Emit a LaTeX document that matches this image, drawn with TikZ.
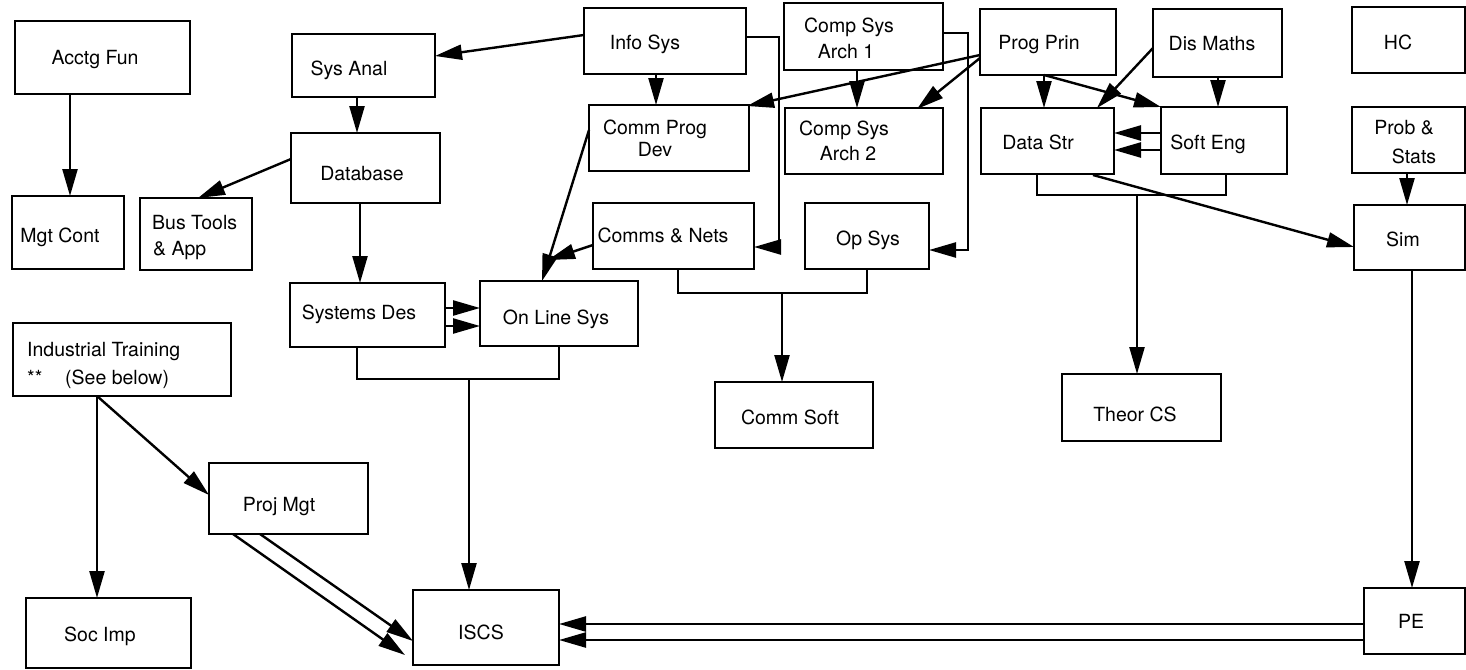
\documentclass[tikz,border=0pt]{standalone}
\usepackage{fontspec}
\setmainfont{TeX Gyre Heros}
\usetikzlibrary{arrows.meta,calc}
\newcommand{\mybx}[5]{\node[box, minimum width={(#4-#2)*1pt}, minimum height={(#5-#3)*1pt}] (#1) at ({(#2+#4)/2},{(#3+#5)/2}) {};}
\begin{document}
\begin{tikzpicture}[x=1pt,y=-1pt,
  box/.style={draw, line width=2pt, inner sep=0pt, outer sep=0pt},
  lbl/.style={anchor=base, inner sep=0pt, font=\fontsize{19.5}{23}\selectfont},
  lblw/.style={lbl, anchor=base west},
  conn/.style={line width=2.4pt},
  arr/.style={conn, -{Triangle[length=27pt,width=15pt]}}]
\useasboundingbox (0,0) rectangle (1466,669);
\fill[white] (0,0) rectangle (1466,669);
% boxes
\mybx{acctg}{15}{21}{190}{94}
\mybx{mgt}{12}{196}{124}{269}
\mybx{bus}{140}{198}{252}{270}
\mybx{sysanal}{292}{34}{435}{97}
\mybx{db}{291}{133}{440}{203}
\mybx{info}{584}{8}{746}{74}
\mybx{csa1}{784}{3}{943}{70}
\mybx{cpd}{589}{105}{749}{171}
\mybx{csa2}{785}{108}{943}{174}
\mybx{cn}{593}{203}{754}{269}
\mybx{os}{805}{203}{929}{269}
\mybx{pp}{980}{9}{1116}{75}
\mybx{dm}{1153}{9}{1282}{77}
\mybx{hc}{1352}{7}{1465}{73}
\mybx{ds}{981}{108}{1114}{174}
\mybx{se}{1161}{107}{1287}{174}
\mybx{ps}{1352}{107}{1465}{173}
\mybx{sim}{1354}{205}{1465}{270}
\mybx{sd}{290}{283}{445}{347}
\mybx{ols}{480}{281}{638}{346}
\mybx{cs}{715}{382}{873}{448}
\mybx{tcs}{1062}{374}{1221}{441}
\mybx{it}{13}{323}{231}{396}
\mybx{pm}{209}{463}{368}{534}
\mybx{si}{26}{598}{191}{668}
\mybx{iscs}{413}{590}{559}{665}
\mybx{pe}{1364}{588}{1465}{654}
% labels
\node[lbl] (t-acctg) at (95,64) {Acctg Fun};
\node[lbl] (t-mgt) at (60,242) {Mgt Cont};
\node[lblw] (t-bus1) at (152,229) {Bus Tools};
\node[lblw] (t-bus2) at (153,255) {\& App};
\node[lbl] (t-sysanal) at (349,75) {Sys Anal};
\node[lbl] (t-db) at (362,180) {Database};
\node[lbl] (t-info) at (645,50) {Info Sys};
\node[lbl] (t-csa1a) at (849,33) {Comp Sys};
\node[lbl] (t-csa1b) at (846,59) {Arch 1};
\node[lbl] (t-cpda) at (655,134) {Comm Prog};
\node[lbl] (t-cpdb) at (655,156) {Dev};
\node[lbl] (t-csa2a) at (844,135) {Comp Sys};
\node[lbl] (t-csa2b) at (848,160) {Arch 2};
\node[lbl] (t-cn) at (663,242) {Comms \& Nets};
\node[lbl] (t-os) at (868,245) {Op Sys};
\node[lbl] (t-pp) at (1039,50) {Prog Prin};
\node[lbl] (t-dm) at (1212,51) {Dis Maths};
\node[lbl] (t-hc) at (1398,50) {HC};
\node[lbl] (t-ds) at (1038,149) {Data Str};
\node[lbl] (t-se) at (1208,149) {Soft Eng};
\node[lbl] (t-psa) at (1404,134) {Prob \&};
\node[lbl] (t-psb) at (1414,163) {Stats};
\node[lbl] (t-sim) at (1403,246) {Sim};
\node[lbl] (t-sd) at (359,319) {Systems Des};
\node[lbl] (t-ols) at (556,324) {On Line Sys};
\node[lbl] (t-cs) at (790,424) {Comm Soft};
\node[lbl] (t-tcs) at (1135,421) {Theor CS};
\node[lblw] (t-it1) at (27,356) {Industrial Training};
\node[lblw] (t-it2) at (27,384) {**};
\node[lblw] (t-it3) at (65,384) {(See below)};
\node[lbl] (t-pm) at (279,511) {Proj Mgt};
\node[lbl] (t-si) at (100,641) {Soc Imp};
\node[lbl] (t-iscs) at (481,639) {ISCS};
\node[lbl] (t-pe) at (1411,628) {PE};
% connectors
\draw[arr] ($(acctg.south west)+(55,0)$) -- ($(mgt.north west)+(58,0)$);
\draw[arr] ($(sysanal.south west)+(65,0)$) -- ($(db.north west)+(66,0)$);
\draw[arr] ($(db.north west)+(0,26)$) -- ($(bus.north west)+(58,0)$);
\draw[arr] ($(db.south west)+(69,0)$) -- ($(sd.north west)+(70,0)$);
\draw[arr] ($(info.north west)+(0,27)$) -- ($(sysanal.north east)+(0,22)$);
\draw[arr] ($(info.south west)+(72,0)$) -- ($(cpd.north west)+(67,0)$);
\draw[arr] ($(info.north east)+(0,29)$) -- ++(33,0) |- ($(cn.north east)+(0,44)$);
\draw[arr] ($(csa1.south west)+(73,0)$) -- ($(csa2.north west)+(72,0)$);
\draw[arr] ($(csa1.north east)+(0,30)$) -- ++(25,0) |- ($(os.north east)+(0,47)$);
\draw[arr] ($(pp.north west)+(0,46)$) -- ($(cpd.north east)+(-2,1)$);
\draw[arr] ($(pp.north west)+(0,49)$) -- ($(csa2.north east)+(-26,1)$);
\draw[arr] ($(pp.south west)+(64,0)$) -- ($(ds.north west)+(63,0)$);
\draw[arr] ($(pp.south west)+(64,0)$) -- (se.north west);
\draw[arr] ($(dm.north west)+(0,39)$) -- ($(ds.north west)+(116,0)$);
\draw[arr] ($(dm.south west)+(65,0)$) -- ($(se.north west)+(57,0)$);
\draw[arr] ($(se.north west)+(0,26)$) -- ($(ds.north east)+(0,25)$);
\draw[arr] ($(se.north west)+(0,43)$) -- ($(ds.north east)+(0,42)$);
\draw[conn] ($(ds.south west)+(56,0)$) |- ($(se.south west)+(65,21)$) -- ($(se.south west)+(65,0)$);
\draw[arr] ($(tcs.north west)+(75,-179)$) -- ($(tcs.north west)+(75,0)$);
\draw[arr] ($(ds.south west)+(112,1)$) -- ($(sim.north west)+(0,42)$);
\draw[arr] ($(ps.south west)+(55,0)$) -- ($(sim.north west)+(53,0)$);
\draw[arr] ($(sim.south west)+(58,0)$) -- ($(pe.north west)+(48,0)$);
\draw[arr] ($(cpd.north west)+(0,25)$) -- ($(ols.north west)+(62,0)$);
\draw[arr] ($(cn.north west)+(0,42)$) -- ($(ols.north west)+(68,-21)$);
\draw[arr] ($(sd.north east)+(0,25)$) -- ($(ols.north west)+(0,27)$);
\draw[arr] ($(sd.north east)+(0,43)$) -- ($(ols.north west)+(0,45)$);
\draw[conn] ($(sd.south west)+(67,0)$) |- ($(ols.south west)+(79,33)$) -- ($(ols.south west)+(79,0)$);
\draw[arr] ($(iscs.north west)+(56,-211)$) -- ($(iscs.north west)+(56,0)$);
\draw[conn] ($(cn.south west)+(85,0)$) |- ($(os.south west)+(62,24)$) -- ($(os.south west)+(62,0)$);
\draw[arr] ($(cs.north west)+(67,-89)$) -- ($(cs.north west)+(67,0)$);
\draw[arr] ($(it.south west)+(84,0)$) -- ($(si.north west)+(71,0)$);
\draw[arr] ($(it.south west)+(84,0)$) -- ($(pm.north west)+(0,32)$);
\draw[arr] ($(pm.south west)+(24,0)$) -- ($(iscs.north west)+(-8,65)$);
\draw[arr] ($(pm.south west)+(51,0)$) -- ($(iscs.north west)+(0,51)$);
\draw[arr] ($(pe.north west)+(0,36)$) -- ($(iscs.north east)+(0,34)$);
\draw[arr] ($(pe.north west)+(0,52)$) -- ($(iscs.north east)+(0,50)$);
\end{tikzpicture}
\end{document}
